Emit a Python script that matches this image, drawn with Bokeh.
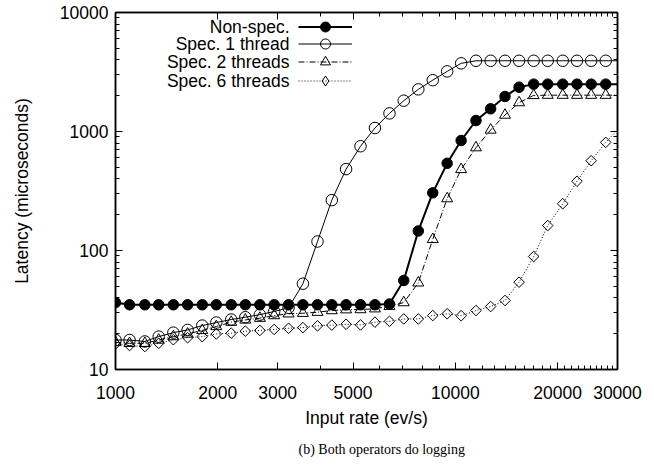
from bokeh.plotting import figure
from bokeh.models import (FixedTicker, LogAxis, Legend, LegendItem, Label, Title,
                          BasicTickFormatter, ColumnDataSource)
from bokeh.core.properties import value
from bokeh.embed import file_html
from bokeh.resources import INLINE

# ---- data ----
x_rate = [1000, 1100, 1220, 1340, 1480, 1630, 1800, 1980, 2190, 2410, 2660, 2930,
          3230, 3560, 3930, 4330, 4770, 5260, 5800, 6400, 7050, 7780, 8580, 9460,
          10400, 11500, 12700, 14000, 15400, 17000, 18700, 20700, 22800, 25100,
          27700, 30500]

non_spec = [36.5, 35, 35, 35, 35, 35, 35, 35, 35, 35, 35, 35,
            35, 35, 35, 35, 35, 35, 35, 35.5, 56, 146, 305, 540,
            840, 1237, 1552, 1968, 2357, 2500, 2500, 2500, 2500, 2500,
            2500, 2500]

spec_1 = [17.7, 17.7, 17.2, 18.9, 20.4, 21.5, 23.4, 24.8, 26.3, 27.5, 28.9, 30.7,
          33.0, 52.6, 119, 265, 483, 752, 1070, 1420, 1815, 2260, 2700, 3200,
          3740, 3930, 3930, 3930, 3930, 3930, 3930, 3930, 3930, 3930,
          3930, 3930]

spec_2 = [16.9, 16.6, 16.6, 17.7, 18.9, 19.9, 21.3, 23.0, 25.0, 26.1, 27.0, 28.4,
          29.4, 29.7, 30.3, 31.3, 31.8, 31.9, 32.4, 34.0, 36.5, 53.5, 124, 273,
          480, 732, 1030, 1375, 1750, 2010, 2020, 2020, 2020, 2020,
          2020, 2020]

spec_6 = [16.4, 15.9, 15.6, 16.6, 17.8, 18.5, 18.9, 19.9, 20.2, 21.0, 21.3, 21.7,
          22.2, 22.5, 23.3, 23.6, 24.0, 23.7, 25.0, 25.4, 26.6, 26.6, 28.4, 29.4,
          28.3, 31.3, 33.8, 38.0, 54.2, 89, 162, 247, 382, 568,
          810, 1090]

series_names = ["Non-spec.", "Spec. 1 thread", "Spec. 2 threads", "Spec. 6 threads"]
caption = "(b) Both operators do logging"

x_tick_values = [1000, 2000, 3000, 5000, 10000, 20000, 30000]
x_tick_labels = ["1000", "2000", "3000", "5000", "10000", "20000", "30000"]
x_minor_values = [4000, 6000, 7000, 8000, 9000, 11000, 12000, 13000, 14000, 15000,
                  16000, 17000, 18000, 19000, 21000, 22000, 23000, 24000, 25000,
                  26000, 27000, 28000, 29000]
y_tick_values = [10, 100, 1000, 10000]
y_tick_labels = ["10", "100", "1000", "10000"]
y_minor_values = [20, 30, 40, 50, 60, 70, 80, 90, 200, 300, 400, 500, 600, 700, 800,
                  900, 2000, 3000, 4000, 5000, 6000, 7000, 8000, 9000]

x_min, x_max = 1000, 30000
y_min, y_max = 10, 10000

FONT = "Liberation Sans"
FS = "17.5px"

p = figure(width=654, height=465, x_axis_type="log", y_axis_type="log",
           x_range=(x_min, x_max), y_range=(y_min, y_max),
           output_backend="svg", toolbar_location=None,
           min_border_left=115, min_border_right=37, min_border_top=12,
           min_border_bottom=96)
p.xgrid.visible = False
p.ygrid.visible = False
p.outline_line_color = "black"
p.outline_line_width = 1.5
p.background_fill_color = "white"

xt = FixedTicker(ticks=x_tick_values, minor_ticks=x_minor_values)
yt = FixedTicker(ticks=y_tick_values, minor_ticks=y_minor_values)


def style_axis(ax, labels=True):
    ax.axis_line_color = "black"
    ax.axis_line_width = 1.5
    ax.major_tick_in = 7
    ax.major_tick_out = 0
    ax.minor_tick_in = 4
    ax.minor_tick_out = 0
    ax.major_tick_line_color = "black"
    ax.minor_tick_line_color = "black"
    ax.major_tick_line_width = 1
    ax.minor_tick_line_width = 1
    ax.major_label_text_font = FONT
    ax.major_label_text_font_size = FS
    ax.major_label_text_color = "black"
    if labels:
        ax.axis_label_text_font = FONT
        ax.axis_label_text_font_size = FS
        ax.axis_label_text_font_style = "normal"
        ax.axis_label_text_color = "black"
    else:
        ax.major_label_standoff = 0
        ax.axis_label = None


xa = p.xaxis[0]
xa.ticker = xt
xa.formatter = BasicTickFormatter(use_scientific=False)
xa.major_label_overrides = dict(zip(x_tick_values, x_tick_labels))
xa.axis_label = "Input rate (ev/s)"
style_axis(xa)
xa.major_label_standoff = 16
xa.axis_label_standoff = 6

ya = p.yaxis[0]
ya.ticker = yt
ya.formatter = BasicTickFormatter(use_scientific=False)
ya.major_label_overrides = dict(zip(y_tick_values, y_tick_labels))
ya.axis_label = "Latency (microseconds)"
style_axis(ya)
ya.major_label_standoff = 7
ya.axis_label_standoff = 25

# mirrored tick marks on top and right (no labels)
top_ax = LogAxis(ticker=xt)
style_axis(top_ax, labels=False)
top_ax.major_label_overrides = {v: "" for v in x_tick_values}
p.add_layout(top_ax, "above")
right_ax = LogAxis(ticker=yt)
style_axis(right_ax, labels=False)
right_ax.major_label_overrides = {v: "" for v in y_tick_values}
p.add_layout(right_ax, "right")

# ---- series ----
styles = [
    dict(lw=2.0, dash="solid", marker="circle", size=10.5, fill="black", angle=0.0,
         legend_marker="circle"),
    dict(lw=1.0, dash="solid", marker="circle", size=11.5, fill=None, angle=0.0,
         legend_marker="circle"),
    dict(lw=1.0, dash="6 2 1 2", marker="triangle", size=11, fill=None, angle=0.0,
         legend_marker="triangle"),
    dict(lw=1.0, dash="1 2", marker="square", size=7.5, fill=None, angle=0.785398,
         legend_marker="diamond"),
]
all_values = [non_spec, spec_1, spec_2, spec_6]

# legend rows: text right-aligned, then a line sample with its marker
row_center = [26, 43.5, 61.5, 80]          # pixels from the top of the figure
frame_bottom, frame_left = 369, 115
text_right = 289
sample_left = 298
GH = 25

for k, (name, vals, st) in enumerate(zip(series_names, all_values, styles)):
    lr = p.line(x_rate, vals, line_color="black", line_width=st["lw"],
                line_dash=st["dash"])
    keep = [i for i, x in enumerate(x_rate) if x_min <= x <= x_max]
    src = ColumnDataSource(data=dict(x=[x_rate[i] for i in keep],
                                     y=[vals[i] for i in keep]))
    sr = p.scatter("x", "y", source=src, marker=st["marker"], size=st["size"],
                   line_color="black", line_width=1.0,
                   fill_color=st["fill"], angle=st["angle"])
    if st["legend_marker"] != st["marker"]:
        # zero-size copy: invisible in the plot, supplies the legend's diamond
        sr = p.scatter("x", "y", source=src, marker=st["legend_marker"], size=0,
                       line_color="black", line_width=1.0, fill_color=st["fill"])
    leg = Legend(items=[LegendItem(label=value(""), renderers=[lr, sr])],
                 location=(sample_left - frame_left,
                           frame_bottom - (row_center[k] + GH / 2)),
                 glyph_width=54, glyph_height=GH, spacing=0, padding=0, margin=0,
                 label_width=0, label_standoff=0, label_height=GH,
                 label_text_font=FONT, label_text_font_size=FS,
                 background_fill_alpha=0, border_line_alpha=0)
    p.add_layout(leg, "center")
    p.add_layout(Label(x=text_right - frame_left, y=frame_bottom - row_center[k],
                       x_units="screen", y_units="screen",
                       text=name, text_align="right", text_baseline="middle",
                       text_font=FONT, text_font_size=FS, text_color="black"))

# caption under the chart
cap = Title(text=caption, align="left", offset=183, vertical_align="bottom",
            text_font="Liberation Serif", text_font_size="14px",
            text_font_style="normal", text_color="black", standoff=18)
p.add_layout(cap, "below")

open("out.html", "w").write(file_html(p, INLINE))
